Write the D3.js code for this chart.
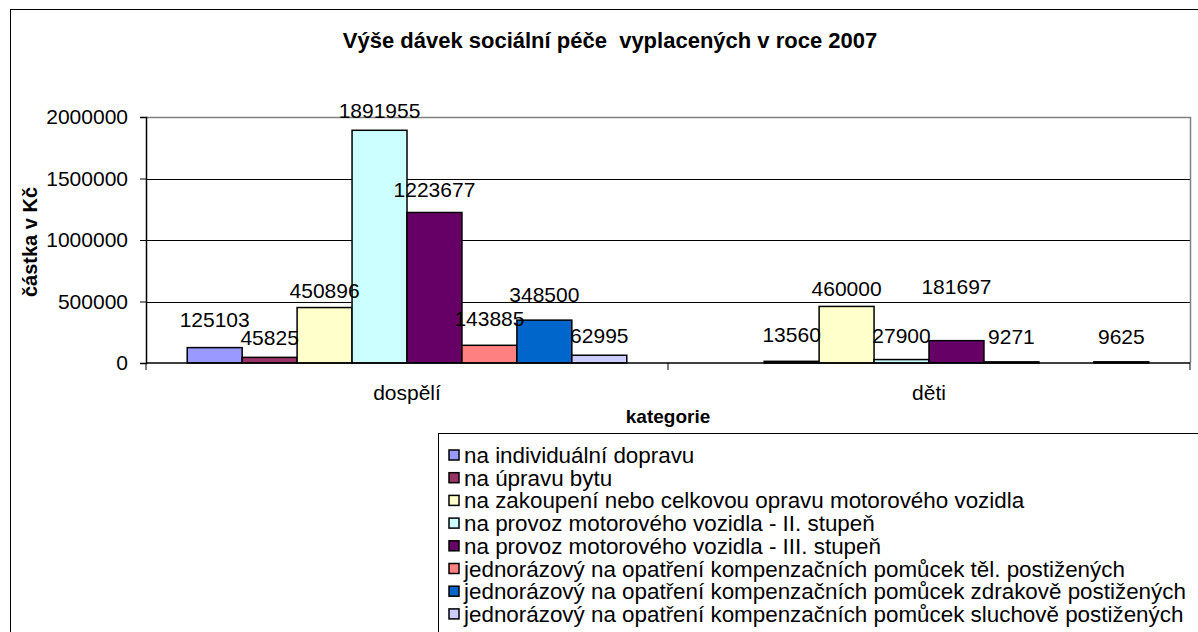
<!DOCTYPE html>
<html>
<head>
<meta charset="utf-8">
<script src="https://cdn.jsdelivr.net/npm/d3@7"></script>
<style>
  body { margin: 0; background: #fff; }
  svg { display: block; font-family: "Liberation Sans", Arial, sans-serif; }
</style>
</head>
<body>
<svg id="chart" width="1198" height="632"></svg>
<script>
// categories and series (values in Kč, null = no bar)
var categories = ['dospělí', 'děti'];
var seriesNames = [
  'na individuální dopravu',
  'na úpravu bytu',
  'na zakoupení nebo celkovou opravu motorového vozidla',
  'na provoz motorového vozidla - II. stupeň',
  'na provoz motorového vozidla - III. stupeň',
  'jednorázový na opatření kompenzačních pomůcek těl. postižených',
  'jednorázový na opatření kompenzačních pomůcek zdrakově postižených',
  'jednorázový na opatření kompenzačních pomůcek sluchově postižených'
];
var valuesDospeli = [125103, 45825, 450896, 1891955, 1223677, 143885, 348500, 62995];
var valuesDeti = [null, 13560, 460000, 27900, 181697, 9271, null, 9625];
var yTicks = [0, 500000, 1000000, 1500000, 2000000];

var colors = ['#9999ff', '#993366', '#ffffcc', '#ccffff', '#660066', '#ff8080', '#0066cc', '#ccccff'];
// how far each data label sits above its bar top (px), as placed in the original
var labelLift = [
  [21, 12, 10, 12, 15, 19, 18, 12],
  [0, 19, 10, 17, 47, 18, 0, 18]
];

var svg = d3.select('#chart');
var plot = {left: 146, right: 1190, top: 117, bottom: 363};

// outer chart frame (runs off the right and bottom edge)
svg.append('rect').attr('x', 10.5).attr('y', 9.5).attr('width', 1400).attr('height', 800)
  .attr('fill', '#fff').attr('stroke', '#000');

svg.append('text').attr('x', 610).attr('y', 48)
  .attr('text-anchor', 'middle').attr('font-weight', 'bold').attr('font-size', 22)
  .style('white-space', 'pre')
  .text('Výše dávek sociální péče  vyplacených v roce 2007');

var x0 = d3.scaleBand().domain(categories).range([plot.left, plot.right]);
var bw = x0.bandwidth();
var gap = bw * 1.5 / (seriesNames.length + 1.5);
var x1 = d3.scaleBand().domain(d3.range(seriesNames.length)).range([gap / 2, bw - gap / 2]);
var y = d3.scaleLinear().domain([0, 2000000]).range([plot.bottom, plot.top]);

// gridlines
svg.append('g').selectAll('line').data(yTicks.slice(1, -1)).join('line')
  .attr('x1', plot.left).attr('x2', plot.right)
  .attr('y1', function(d) { return Math.round(y(d)) + 0.5; })
  .attr('y2', function(d) { return Math.round(y(d)) + 0.5; })
  .attr('stroke', '#000');
// plot area border (top/right grey)
svg.append('path')
  .attr('d', 'M' + plot.left + ',' + (plot.top + 0.5) + 'H' + (plot.right + 0.5) + 'V' + plot.bottom)
  .attr('fill', 'none').attr('stroke', '#808080').attr('stroke-width', 1.5);

var rows = [valuesDospeli, valuesDeti];
var data = [];
rows.forEach(function(vals, ci) {
  vals.forEach(function(v, si) {
    if (v !== null) data.push({cat: categories[ci], ci: ci, si: si, v: v});
  });
});

svg.append('g').selectAll('rect').data(data).join('rect')
  .attr('x', function(d) { return x0(d.cat) + x1(d.si); })
  .attr('y', function(d) { return y(d.v); })
  .attr('width', x1.bandwidth())
  .attr('height', function(d) { return y(0) - y(d.v); })
  .attr('fill', function(d) { return colors[d.si]; })
  .attr('stroke', '#000').attr('stroke-width', 1.5);

svg.append('g').selectAll('text').data(data).join('text')
  .attr('x', function(d) { return x0(d.cat) + x1(d.si) + x1.bandwidth() / 2; })
  .attr('y', function(d) { return y(d.v) - labelLift[d.ci][d.si]; })
  .attr('text-anchor', 'middle').attr('font-size', 21)
  .text(function(d) { return d.v; });

// y axis
var yAxis = d3.axisLeft(y).tickValues(yTicks).tickSize(6).tickPadding(12).tickFormat(d3.format('d'));
var gy = svg.append('g').attr('transform', 'translate(' + plot.left + ',0)').call(yAxis);
gy.select('.domain').attr('stroke', '#000').attr('stroke-width', 1.5);
gy.selectAll('.tick line').attr('stroke', '#000');
gy.selectAll('.tick text').attr('font-size', 21).attr('font-family', 'Liberation Sans, Arial, sans-serif').attr('fill', '#000');

// x axis: ticks at category boundaries
var gx = svg.append('g').attr('transform', 'translate(0,' + plot.bottom + ')');
gx.append('line').attr('x1', plot.left).attr('x2', plot.right).attr('stroke', '#000').attr('stroke-width', 1.5);
gx.selectAll('line.tk').data([plot.left].concat(categories.map(function(c) { return x0(c) + bw; })))
  .join('line').attr('class', 'tk')
  .attr('x1', function(d) { return d; }).attr('x2', function(d) { return d; })
  .attr('y1', 0).attr('y2', 7).attr('stroke', '#000');
gx.selectAll('text').data(categories).join('text')
  .attr('x', function(d) { return x0(d) + bw / 2; }).attr('y', 37)
  .attr('text-anchor', 'middle').attr('font-size', 21).text(function(d) { return d; });

// axis titles
svg.append('text').attr('x', 668).attr('y', 423).attr('text-anchor', 'middle')
  .attr('font-weight', 'bold').attr('font-size', 19).text('kategorie');
svg.append('text').attr('transform', 'translate(37,242) rotate(-90)').attr('text-anchor', 'middle')
  .attr('font-weight', 'bold').attr('font-size', 20).text('částka v Kč');

// legend box (runs off the right and bottom edge)
var lg = svg.append('g').attr('transform', 'translate(438,433)');
lg.append('rect').attr('x', 0.5).attr('y', 0.5).attr('width', 900).attr('height', 400)
  .attr('fill', '#fff').attr('stroke', '#000');
var items = lg.selectAll('g.item').data(seriesNames).join('g').attr('class', 'item')
  .attr('transform', function(d, i) { return 'translate(11,' + (30 + i * 22.7) + ')'; });
items.append('rect').attr('x', 0).attr('y', -13).attr('width', 10).attr('height', 10)
  .attr('fill', function(d, i) { return colors[i]; }).attr('stroke', '#000').attr('stroke-width', 1.5);
items.append('text').attr('x', 15).attr('y', 0).attr('font-size', 22.4)
  .text(function(d) { return d; });
</script>
</body>
</html>
